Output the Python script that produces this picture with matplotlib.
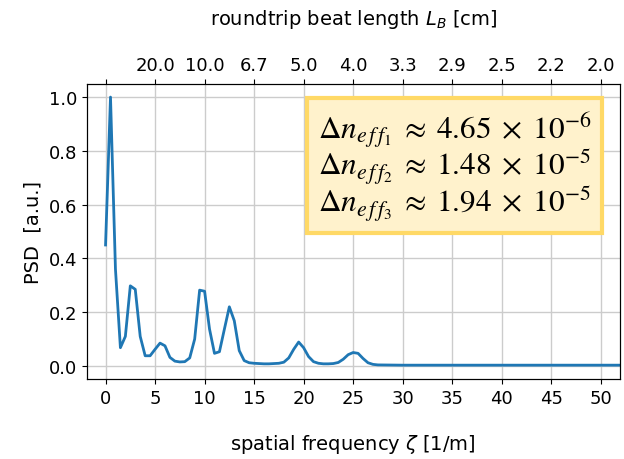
import matplotlib.pyplot as plt
import numpy as np

plt.rcParams['mathtext.fontset'] = 'stix'

# spatial frequency [1/m] and normalised PSD
zeta = [0.0, 0.5, 1.0, 1.5, 2.0, 2.5, 3.0, 3.5, 4.0, 4.5,
        5.0, 5.5, 6.0, 6.5, 7.0, 7.5, 8.0, 8.5, 9.0, 9.5,
        10.0, 10.5, 11.0, 11.5, 12.0, 12.5, 13.0, 13.5, 14.0, 14.5,
        15.0, 15.5, 16.0, 16.5, 17.0, 17.5, 18.0, 18.5, 19.0, 19.5,
        20.0, 20.5, 21.0, 21.5, 22.0, 22.5, 23.0, 23.5, 24.0, 24.5,
        25.0, 25.5, 26.0, 26.5, 27.0, 27.5, 30.0, 35.0, 40.0, 45.0,
        50.0, 52.5]
psd = [0.45, 1.00, 0.36, 0.068, 0.11, 0.298, 0.285, 0.11, 0.038, 0.038,
       0.062, 0.085, 0.075, 0.032, 0.018, 0.015, 0.016, 0.03, 0.10, 0.282,
       0.278, 0.137, 0.047, 0.053, 0.137, 0.22, 0.168, 0.057, 0.02, 0.012,
       0.010, 0.009, 0.008, 0.008, 0.009, 0.010, 0.014, 0.03, 0.062, 0.089,
       0.068, 0.035, 0.016, 0.010, 0.008, 0.008, 0.009, 0.013, 0.025, 0.042,
       0.050, 0.047, 0.028, 0.012, 0.006, 0.004, 0.003, 0.003, 0.003, 0.003,
       0.003, 0.003]

x_ticks = [0, 5, 10, 15, 20, 25, 30, 35, 40, 45, 50]
top_labels = ['', '20.0', '10.0', '6.7', '5.0', '4.0', '3.3', '2.9', '2.5', '2.2', '2.0']
delta_n = ['4.65', '1.48', '1.94']
delta_exp = ['-6', '-5', '-5']

fig = plt.figure(figsize=(6.24, 4.6), dpi=100)
ax = fig.add_axes([0.139, 0.173, 0.8546, 0.643])

ax.plot(zeta, psd, color='tab:blue', linewidth=2)
ax.set_xlim(-1.9, 51.95)
ax.set_ylim(-0.05, 1.05)
ax.set_xticks(x_ticks)
ax.set_yticks([0.0, 0.2, 0.4, 0.6, 0.8, 1.0])
ax.tick_params(labelsize=13)
ax.grid(color='#cccccc', linewidth=1)
ax.set_xlabel(r'spatial frequency $\zeta$ [1/m]', fontsize=14, labelpad=18,
              math_fontfamily='dejavusans')
ax.set_ylabel('PSD  [a.u.]', fontsize=14)

ax2 = ax.twiny()
ax2.set_xlim(ax.get_xlim())
ax2.set_xticks(x_ticks)
ax2.set_xticklabels(top_labels)
ax2.tick_params(labelsize=13)
ax2.set_xlabel(r'roundtrip beat length $L_B$ [cm]', fontsize=14, labelpad=23,
               math_fontfamily='dejavusans')

lines = []
for i, (v, e) in enumerate(zip(delta_n, delta_exp)):
    lines.append(r'$\Delta n_{e\,f\,f_{%d}}\;\approx\;%s\;\times\;10^{%s}$' % (i + 1, v, e))
ax.text(0.433, 0.915, '\n'.join(lines), transform=ax.transAxes, fontsize=22.5,
        va='top', ha='left', linespacing=0.88,
        bbox=dict(boxstyle='square,pad=0.33', facecolor='#fff2cc',
                  edgecolor='#ffd966', linewidth=3))

plt.savefig('out.png', dpi=100)
